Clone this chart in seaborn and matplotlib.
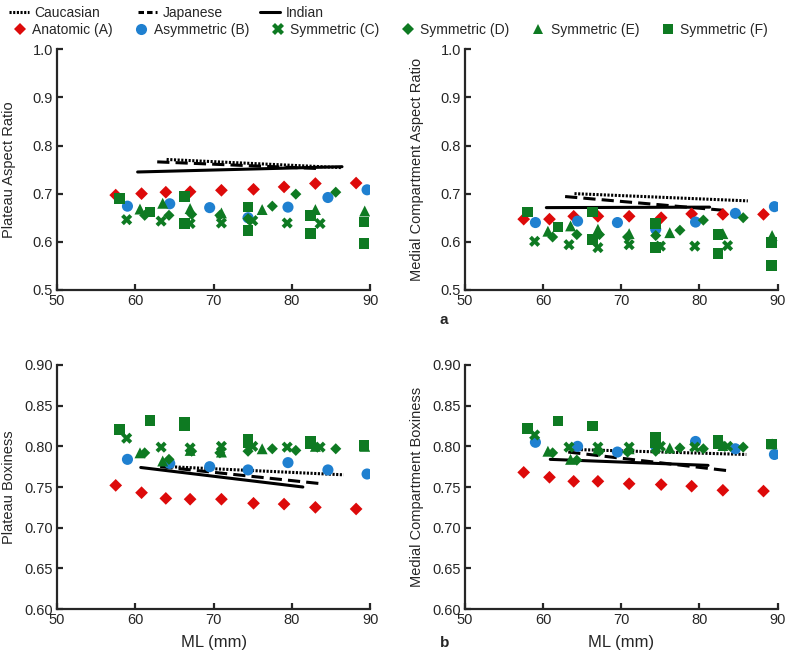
import matplotlib
matplotlib.use("Agg")
import matplotlib.pyplot as plt
from matplotlib.lines import Line2D
from matplotlib.ticker import FormatStrFormatter, MultipleLocator
import seaborn as sns

# implant families
designs = ["Anatomic (A)", "Asymmetric (B)", "Symmetric (C)",
           "Symmetric (D)", "Symmetric (E)", "Symmetric (F)"]
populations = ["Caucasian", "Japanese", "Indian"]

# ML size (mm) of each implant size, per design
ml_a = [57.5, 60.8, 63.9, 67.0, 71.0, 75.1, 79.0, 83.0, 88.2]
ml_b = [59.0, 64.4, 69.5, 74.4, 79.5, 84.6, 89.6]
ml_c = [58.9, 63.3, 67.0, 71.0, 75.0, 79.4, 83.6]
ml_d = [61.2, 64.3, 67.2, 70.8, 74.4, 77.5, 80.5, 85.6]
ml_e = [60.6, 63.5, 67.0, 71.0, 76.2, 83.0, 89.3]
ml_f = [58.0, 61.9, 66.3, 66.3, 74.4, 74.4, 82.4, 82.4, 89.2, 89.2]

# plateau aspect ratio
par_a = [0.697, 0.700, 0.703, 0.704, 0.707, 0.709, 0.714, 0.721, 0.722]
par_b = [0.674, 0.679, 0.671, 0.650, 0.672, 0.692, 0.708]
par_c = [0.646, 0.643, 0.638, 0.639, 0.644, 0.639, 0.638]
par_d = [0.655, 0.655, 0.657, 0.655, 0.648, 0.674, 0.699, 0.703]
par_e = [0.668, 0.680, 0.669, 0.660, 0.667, 0.667, 0.664]
par_f = [0.690, 0.662, 0.694, 0.638, 0.672, 0.624, 0.655, 0.617, 0.641, 0.596]

# medial compartment aspect ratio
mar_a = [0.647, 0.647, 0.653, 0.653, 0.653, 0.650, 0.658, 0.657, 0.657]
mar_b = [0.640, 0.643, 0.640, 0.626, 0.641, 0.659, 0.673]
mar_c = [0.601, 0.594, 0.588, 0.594, 0.591, 0.591, 0.592]
mar_d = [0.610, 0.615, 0.615, 0.610, 0.613, 0.624, 0.645, 0.650]
mar_e = [0.622, 0.633, 0.626, 0.617, 0.619, 0.617, 0.613]
mar_f = [0.662, 0.631, 0.662, 0.605, 0.638, 0.588, 0.615, 0.576, 0.598, 0.551]

# plateau boxiness
pbx_a = [0.752, 0.743, 0.736, 0.735, 0.735, 0.730, 0.729, 0.725, 0.723]
pbx_b = [0.784, 0.779, 0.775, 0.771, 0.780, 0.771, 0.766]
pbx_c = [0.810, 0.799, 0.798, 0.800, 0.800, 0.799, 0.799]
pbx_d = [0.792, 0.784, 0.794, 0.792, 0.794, 0.797, 0.795, 0.797]
pbx_e = [0.792, 0.782, 0.795, 0.793, 0.797, 0.800, 0.800]
pbx_f = [0.821, 0.832, 0.829, 0.825, 0.809, 0.804, 0.806, 0.803, 0.801, 0.801]

# medial compartment boxiness
mbx_a = [0.768, 0.762, 0.757, 0.757, 0.754, 0.753, 0.751, 0.746, 0.745]
mbx_b = [0.805, 0.800, 0.793, 0.800, 0.806, 0.797, 0.790]
mbx_c = [0.814, 0.799, 0.799, 0.799, 0.800, 0.799, 0.800]
mbx_d = [0.792, 0.783, 0.794, 0.793, 0.794, 0.798, 0.797, 0.799]
mbx_e = [0.794, 0.784, 0.797, 0.797, 0.798, 0.801, 0.803]
mbx_f = [0.822, 0.831, 0.825, 0.825, 0.811, 0.805, 0.807, 0.803, 0.803, 0.803]

# population fits (start / end), order: Caucasian, Japanese, Indian
par_fit_ml = [[64.0, 86.4], [62.8, 83.6], [60.3, 86.4]]
par_fit = [[0.771, 0.754], [0.766, 0.752], [0.745, 0.756]]
mar_fit_ml = [[64.0, 86.2], [62.8, 83.4], [60.4, 81.3]]
mar_fit = [[0.700, 0.685], [0.694, 0.665], [0.671, 0.672]]
pbx_fit_ml = [[63.2, 86.6], [63.2, 83.8], [60.7, 81.4]]
pbx_fit = [[0.7755, 0.765], [0.775, 0.754], [0.774, 0.750]]
mbx_fit_ml = [[63.4, 86.0], [63.2, 83.7], [60.9, 81.1]]
mbx_fit = [[0.7963, 0.790], [0.793, 0.770], [0.784, 0.7766]]

red = "#DD0A0A"
blue = "#1F80D0"
green = "#0E7A22"
colors = [red, blue, green, green, green, green]
markers = ["D", "o", "X", "D", "^", "s"]
sizes = [42, 64, 64, 32, 62, 58]
line_styles = [(0, (0.7, 0.5)), (0, (4, 2)), "-"]
legend_styles = [(0, (0.7, 0.5)), (0, (1.8, 1.0)), "-"]

sns.set_style("ticks")
plt.rcParams["font.family"] = ["Liberation Sans", "DejaVu Sans"]
plt.rcParams["axes.linewidth"] = 1.6


def draw_panel(ax, xs_list, ys_list, fit_x, fit_y, ylim, ystep, yfmt, ylabel):
    # regression lines first so markers sit on top
    for xs, ys, ls in zip(fit_x, fit_y, line_styles):
        sns.lineplot(x=xs, y=ys, ax=ax, color="black", linestyle=ls,
                     linewidth=2.2, estimator=None, sort=False)
    for xs, ys, c, m, s in zip(xs_list, ys_list, colors, markers, sizes):
        sns.scatterplot(x=xs, y=ys, ax=ax, color=c, marker=m, s=s,
                        edgecolor="none", linewidth=0, zorder=3)
    ax.set_xlim(50, 90)
    ax.set_ylim(*ylim)
    ax.xaxis.set_major_locator(MultipleLocator(10))
    ax.yaxis.set_major_locator(MultipleLocator(ystep))
    ax.yaxis.set_major_formatter(FormatStrFormatter(yfmt))
    ax.tick_params(direction="in", length=4, width=1.6, labelsize=10.5, pad=3)
    ax.set_ylabel(ylabel, fontsize=10.5)
    ax.yaxis.set_label_coords(-0.132, 0.5)
    sns.despine(ax=ax)


fig = plt.figure(figsize=(7.87, 6.56), dpi=100)
ax_tl = fig.add_axes([0.0724, 0.558, 0.398, 0.367])
ax_tr = fig.add_axes([0.591, 0.558, 0.397, 0.367])
ax_bl = fig.add_axes([0.0724, 0.0716, 0.398, 0.372])
ax_br = fig.add_axes([0.591, 0.0716, 0.397, 0.372])

ml_all = [ml_a, ml_b, ml_c, ml_d, ml_e, ml_f]
draw_panel(ax_tl, ml_all, [par_a, par_b, par_c, par_d, par_e, par_f],
           par_fit_ml, par_fit, (0.5, 1.0), 0.1, "%.1f", "Plateau Aspect Ratio")
draw_panel(ax_tr, ml_all, [mar_a, mar_b, mar_c, mar_d, mar_e, mar_f],
           mar_fit_ml, mar_fit, (0.5, 1.0), 0.1, "%.1f",
           "Medial Compartment Aspect Ratio")
draw_panel(ax_bl, ml_all, [pbx_a, pbx_b, pbx_c, pbx_d, pbx_e, pbx_f],
           pbx_fit_ml, pbx_fit, (0.6, 0.9), 0.05, "%.2f", "Plateau Boxiness")
draw_panel(ax_br, ml_all, [mbx_a, mbx_b, mbx_c, mbx_d, mbx_e, mbx_f],
           mbx_fit_ml, mbx_fit, (0.6, 0.9), 0.05, "%.2f",
           "Medial Compartment Boxiness")

for ax in (ax_bl, ax_br):
    ax.set_xlabel("ML (mm)", fontsize=12)
    ax.xaxis.set_label_coords(0.5, -0.105)

fig.text(440 / 787, 1 - 320 / 656, "a", fontsize=11, fontweight="bold",
         ha="left", va="center")
fig.text(440 / 787, 1 - 643 / 656, "b", fontsize=11, fontweight="bold",
         ha="left", va="center")

# legends across the top
line_handles = [Line2D([], [], color="black", linestyle=ls, linewidth=2.2)
                for ls in legend_styles]
fig.legend(line_handles, populations, loc="upper left",
           bbox_to_anchor=(0.005, 1.0), ncol=3, frameon=False,
           fontsize=10, handlelength=1.4, handletextpad=0.4,
           columnspacing=2.7, borderaxespad=0)

marker_handles = [Line2D([], [], color=c, marker=m, linestyle="none",
                         markersize=s ** 0.5, markeredgewidth=0)
                  for c, m, s in zip(colors, markers, sizes)]
fig.legend(marker_handles, designs, loc="upper left",
           bbox_to_anchor=(0.01, 0.973), ncol=6, frameon=False,
           fontsize=10, handlelength=0.9, handletextpad=0.45,
           columnspacing=1.6, borderaxespad=0)

fig.savefig("out.png", dpi=100)
